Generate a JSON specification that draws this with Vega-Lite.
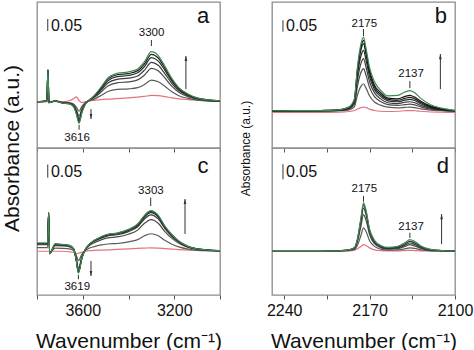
{
"$schema":"https://vega.github.io/schema/vega-lite/v6.json",
"padding":{"left":0,"top":1,"right":0,"bottom":0},
"background":"white",
"config":{
 "font":"Liberation Sans",
 "view":{"stroke":"#8c8c8c","strokeWidth":1.3},
 "axis":{"grid":false,"domain":false,"tickColor":"#555","tickSize":4,"labelFontSize":16,"labelColor":"#111","titleFontSize":21,"titleFontWeight":"normal","titleColor":"#111","labelFont":"Liberation Sans","titleFont":"Liberation Sans"},
 "text":{"font":"Liberation Sans"}
},
"datasets":{
"A":[
{"s":"0","x":3800,"y":0},{"s":"0","x":3757,"y":0},{"s":"0","x":3752,"y":0.002},{"s":"0","x":3748,"y":0},{"s":"0","x":3720,"y":0.003},{"s":"0","x":3690,"y":0},{"s":"0","x":3660,"y":0.004},{"s":"0","x":3640,"y":0.012},{"s":"0","x":3628,"y":0.02},{"s":"0","x":3616,"y":0.005},{"s":"0","x":3604,"y":-0.003},{"s":"0","x":3590,"y":0},{"s":"0","x":3575,"y":0.003},{"s":"0","x":3550,"y":0.006},{"s":"0","x":3520,"y":0.009},{"s":"0","x":3490,"y":0.011},{"s":"0","x":3450,"y":0.013},{"s":"0","x":3400,"y":0.016},{"s":"0","x":3360,"y":0.019},{"s":"0","x":3330,"y":0.022},{"s":"0","x":3300,"y":0.026},{"s":"0","x":3270,"y":0.025},{"s":"0","x":3240,"y":0.021},{"s":"0","x":3210,"y":0.016},{"s":"0","x":3180,"y":0.012},{"s":"0","x":3140,"y":0.009},{"s":"0","x":3100,"y":0.007},{"s":"0","x":3050,"y":0.005},{"s":"0","x":3000,"y":0.004},
{"s":"1","x":3800,"y":0},{"s":"1","x":3757,"y":0.002},{"s":"1","x":3752,"y":0.13},{"s":"1","x":3748,"y":-0.002},{"s":"1","x":3720,"y":0.002},{"s":"1","x":3690,"y":-0.002},{"s":"1","x":3660,"y":-0.003},{"s":"1","x":3640,"y":-0.009},{"s":"1","x":3628,"y":-0.022},{"s":"1","x":3616,"y":-0.039},{"s":"1","x":3604,"y":-0.019},{"s":"1","x":3590,"y":-0.005},{"s":"1","x":3575,"y":0.002},{"s":"1","x":3550,"y":0.011},{"s":"1","x":3520,"y":0.026},{"s":"1","x":3490,"y":0.042},{"s":"1","x":3450,"y":0.051},{"s":"1","x":3400,"y":0.053},{"s":"1","x":3360,"y":0.058},{"s":"1","x":3330,"y":0.071},{"s":"1","x":3300,"y":0.089},{"s":"1","x":3270,"y":0.082},{"s":"1","x":3240,"y":0.063},{"s":"1","x":3210,"y":0.041},{"s":"1","x":3180,"y":0.025},{"s":"1","x":3140,"y":0.014},{"s":"1","x":3100,"y":0.007},{"s":"1","x":3050,"y":0.003},{"s":"1","x":3000,"y":0.002},
{"s":"2","x":3800,"y":0},{"s":"2","x":3757,"y":0.003},{"s":"2","x":3752,"y":0.13},{"s":"2","x":3748,"y":-0.003},{"s":"2","x":3720,"y":0.003},{"s":"2","x":3690,"y":-0.003},{"s":"2","x":3660,"y":-0.005},{"s":"2","x":3640,"y":-0.013},{"s":"2","x":3628,"y":-0.033},{"s":"2","x":3616,"y":-0.059},{"s":"2","x":3604,"y":-0.03},{"s":"2","x":3590,"y":-0.008},{"s":"2","x":3575,"y":0.003},{"s":"2","x":3550,"y":0.017},{"s":"2","x":3520,"y":0.04},{"s":"2","x":3490,"y":0.065},{"s":"2","x":3450,"y":0.078},{"s":"2","x":3400,"y":0.082},{"s":"2","x":3360,"y":0.09},{"s":"2","x":3330,"y":0.11},{"s":"2","x":3300,"y":0.137},{"s":"2","x":3270,"y":0.127},{"s":"2","x":3240,"y":0.097},{"s":"2","x":3210,"y":0.063},{"s":"2","x":3180,"y":0.039},{"s":"2","x":3140,"y":0.021},{"s":"2","x":3100,"y":0.011},{"s":"2","x":3050,"y":0.005},{"s":"2","x":3000,"y":0.003},
{"s":"3","x":3800,"y":0},{"s":"3","x":3757,"y":0.003},{"s":"3","x":3752,"y":0.13},{"s":"3","x":3748,"y":-0.003},{"s":"3","x":3720,"y":0.003},{"s":"3","x":3690,"y":-0.004},{"s":"3","x":3660,"y":-0.006},{"s":"3","x":3640,"y":-0.016},{"s":"3","x":3628,"y":-0.039},{"s":"3","x":3616,"y":-0.07},{"s":"3","x":3604,"y":-0.035},{"s":"3","x":3590,"y":-0.009},{"s":"3","x":3575,"y":0.003},{"s":"3","x":3550,"y":0.02},{"s":"3","x":3520,"y":0.047},{"s":"3","x":3490,"y":0.077},{"s":"3","x":3450,"y":0.092},{"s":"3","x":3400,"y":0.097},{"s":"3","x":3360,"y":0.106},{"s":"3","x":3330,"y":0.13},{"s":"3","x":3300,"y":0.162},{"s":"3","x":3270,"y":0.15},{"s":"3","x":3240,"y":0.114},{"s":"3","x":3210,"y":0.075},{"s":"3","x":3180,"y":0.046},{"s":"3","x":3140,"y":0.025},{"s":"3","x":3100,"y":0.013},{"s":"3","x":3050,"y":0.006},{"s":"3","x":3000,"y":0.003},
{"s":"4","x":3800,"y":0},{"s":"4","x":3757,"y":0.004},{"s":"4","x":3752,"y":0.13},{"s":"4","x":3748,"y":-0.004},{"s":"4","x":3720,"y":0.004},{"s":"4","x":3690,"y":-0.004},{"s":"4","x":3660,"y":-0.007},{"s":"4","x":3640,"y":-0.018},{"s":"4","x":3628,"y":-0.044},{"s":"4","x":3616,"y":-0.078},{"s":"4","x":3604,"y":-0.04},{"s":"4","x":3590,"y":-0.011},{"s":"4","x":3575,"y":0.004},{"s":"4","x":3550,"y":0.022},{"s":"4","x":3520,"y":0.053},{"s":"4","x":3490,"y":0.086},{"s":"4","x":3450,"y":0.103},{"s":"4","x":3400,"y":0.108},{"s":"4","x":3360,"y":0.119},{"s":"4","x":3330,"y":0.145},{"s":"4","x":3300,"y":0.181},{"s":"4","x":3270,"y":0.167},{"s":"4","x":3240,"y":0.128},{"s":"4","x":3210,"y":0.084},{"s":"4","x":3180,"y":0.051},{"s":"4","x":3140,"y":0.028},{"s":"4","x":3100,"y":0.014},{"s":"4","x":3050,"y":0.007},{"s":"4","x":3000,"y":0.004},
{"s":"5","x":3800,"y":0},{"s":"5","x":3757,"y":0.004},{"s":"5","x":3752,"y":0.13},{"s":"5","x":3748,"y":-0.004},{"s":"5","x":3720,"y":0.004},{"s":"5","x":3690,"y":-0.005},{"s":"5","x":3660,"y":-0.008},{"s":"5","x":3640,"y":-0.019},{"s":"5","x":3628,"y":-0.047},{"s":"5","x":3616,"y":-0.084},{"s":"5","x":3604,"y":-0.043},{"s":"5","x":3590,"y":-0.011},{"s":"5","x":3575,"y":0.004},{"s":"5","x":3550,"y":0.024},{"s":"5","x":3520,"y":0.057},{"s":"5","x":3490,"y":0.093},{"s":"5","x":3450,"y":0.111},{"s":"5","x":3400,"y":0.116},{"s":"5","x":3360,"y":0.128},{"s":"5","x":3330,"y":0.156},{"s":"5","x":3300,"y":0.195},{"s":"5","x":3270,"y":0.18},{"s":"5","x":3240,"y":0.137},{"s":"5","x":3210,"y":0.09},{"s":"5","x":3180,"y":0.055},{"s":"5","x":3140,"y":0.03},{"s":"5","x":3100,"y":0.015},{"s":"5","x":3050,"y":0.008},{"s":"5","x":3000,"y":0.004},
{"s":"7","x":3800,"y":0},{"s":"7","x":3757,"y":0.004},{"s":"7","x":3752,"y":0.13},{"s":"7","x":3748,"y":-0.004},{"s":"7","x":3720,"y":0.004},{"s":"7","x":3690,"y":-0.005},{"s":"7","x":3660,"y":-0.008},{"s":"7","x":3640,"y":-0.02},{"s":"7","x":3628,"y":-0.05},{"s":"7","x":3616,"y":-0.089},{"s":"7","x":3604,"y":-0.045},{"s":"7","x":3590,"y":-0.012},{"s":"7","x":3575,"y":0.004},{"s":"7","x":3550,"y":0.025},{"s":"7","x":3520,"y":0.06},{"s":"7","x":3490,"y":0.098},{"s":"7","x":3450,"y":0.117},{"s":"7","x":3400,"y":0.123},{"s":"7","x":3360,"y":0.135},{"s":"7","x":3330,"y":0.165},{"s":"7","x":3300,"y":0.206},{"s":"7","x":3270,"y":0.19},{"s":"7","x":3240,"y":0.145},{"s":"7","x":3210,"y":0.095},{"s":"7","x":3180,"y":0.058},{"s":"7","x":3140,"y":0.032},{"s":"7","x":3100,"y":0.016},{"s":"7","x":3050,"y":0.008},{"s":"7","x":3000,"y":0.004}
],
"C":[
{"s":"0","x":3800,"y":0},{"s":"0","x":3754,"y":0},{"s":"0","x":3749,"y":0},{"s":"0","x":3745,"y":0},{"s":"0","x":3720,"y":0},{"s":"0","x":3690,"y":0},{"s":"0","x":3660,"y":-0.002},{"s":"0","x":3640,"y":-0.005},{"s":"0","x":3628,"y":-0.01},{"s":"0","x":3619,"y":-0.008},{"s":"0","x":3604,"y":-0.004},{"s":"0","x":3590,"y":0},{"s":"0","x":3575,"y":0.002},{"s":"0","x":3550,"y":0.004},{"s":"0","x":3520,"y":0.005},{"s":"0","x":3490,"y":0.006},{"s":"0","x":3450,"y":0.008},{"s":"0","x":3400,"y":0.01},{"s":"0","x":3360,"y":0.012},{"s":"0","x":3330,"y":0.013},{"s":"0","x":3303,"y":0.014},{"s":"0","x":3270,"y":0.013},{"s":"0","x":3240,"y":0.011},{"s":"0","x":3210,"y":0.009},{"s":"0","x":3180,"y":0.007},{"s":"0","x":3140,"y":0.005},{"s":"0","x":3100,"y":0.004},{"s":"0","x":3050,"y":0.003},{"s":"0","x":3000,"y":0.002},
{"s":"1","x":3800,"y":0.015},{"s":"1","x":3754,"y":0.015},{"s":"1","x":3749,"y":0.158},{"s":"1","x":3745,"y":-0.004},{"s":"1","x":3720,"y":0.013},{"s":"1","x":3690,"y":0.012},{"s":"1","x":3660,"y":0.01},{"s":"1","x":3640,"y":0.004},{"s":"1","x":3628,"y":-0.017},{"s":"1","x":3619,"y":-0.039},{"s":"1","x":3604,"y":-0.013},{"s":"1","x":3590,"y":0.002},{"s":"1","x":3575,"y":0.011},{"s":"1","x":3550,"y":0.019},{"s":"1","x":3520,"y":0.026},{"s":"1","x":3490,"y":0.03},{"s":"1","x":3450,"y":0.032},{"s":"1","x":3400,"y":0.039},{"s":"1","x":3360,"y":0.048},{"s":"1","x":3330,"y":0.064},{"s":"1","x":3303,"y":0.072},{"s":"1","x":3270,"y":0.064},{"s":"1","x":3240,"y":0.044},{"s":"1","x":3210,"y":0.029},{"s":"1","x":3180,"y":0.018},{"s":"1","x":3140,"y":0.009},{"s":"1","x":3100,"y":0.004},{"s":"1","x":3050,"y":0.002},{"s":"1","x":3000,"y":0.001},
{"s":"2","x":3800,"y":0.027},{"s":"2","x":3754,"y":0.027},{"s":"2","x":3749,"y":0.158},{"s":"2","x":3745,"y":-0.008},{"s":"2","x":3720,"y":0.023},{"s":"2","x":3690,"y":0.022},{"s":"2","x":3660,"y":0.019},{"s":"2","x":3640,"y":0.008},{"s":"2","x":3628,"y":-0.031},{"s":"2","x":3619,"y":-0.07},{"s":"2","x":3604,"y":-0.023},{"s":"2","x":3590,"y":0.004},{"s":"2","x":3575,"y":0.02},{"s":"2","x":3550,"y":0.035},{"s":"2","x":3520,"y":0.047},{"s":"2","x":3490,"y":0.055},{"s":"2","x":3450,"y":0.059},{"s":"2","x":3400,"y":0.07},{"s":"2","x":3360,"y":0.087},{"s":"2","x":3330,"y":0.115},{"s":"2","x":3303,"y":0.13},{"s":"2","x":3270,"y":0.115},{"s":"2","x":3240,"y":0.08},{"s":"2","x":3210,"y":0.053},{"s":"2","x":3180,"y":0.033},{"s":"2","x":3140,"y":0.016},{"s":"2","x":3100,"y":0.008},{"s":"2","x":3050,"y":0.004},{"s":"2","x":3000,"y":0.002},
{"s":"3","x":3800,"y":0.031},{"s":"3","x":3754,"y":0.031},{"s":"3","x":3749,"y":0.158},{"s":"3","x":3745,"y":-0.009},{"s":"3","x":3720,"y":0.027},{"s":"3","x":3690,"y":0.025},{"s":"3","x":3660,"y":0.022},{"s":"3","x":3640,"y":0.009},{"s":"3","x":3628,"y":-0.036},{"s":"3","x":3619,"y":-0.081},{"s":"3","x":3604,"y":-0.027},{"s":"3","x":3590,"y":0.005},{"s":"3","x":3575,"y":0.023},{"s":"3","x":3550,"y":0.041},{"s":"3","x":3520,"y":0.054},{"s":"3","x":3490,"y":0.063},{"s":"3","x":3450,"y":0.068},{"s":"3","x":3400,"y":0.081},{"s":"3","x":3360,"y":0.101},{"s":"3","x":3330,"y":0.133},{"s":"3","x":3303,"y":0.15},{"s":"3","x":3270,"y":0.133},{"s":"3","x":3240,"y":0.092},{"s":"3","x":3210,"y":0.061},{"s":"3","x":3180,"y":0.038},{"s":"3","x":3140,"y":0.018},{"s":"3","x":3100,"y":0.009},{"s":"3","x":3050,"y":0.005},{"s":"3","x":3000,"y":0.003},
{"s":"4","x":3800,"y":0.032},{"s":"4","x":3754,"y":0.032},{"s":"4","x":3749,"y":0.158},{"s":"4","x":3745,"y":-0.01},{"s":"4","x":3720,"y":0.029},{"s":"4","x":3690,"y":0.027},{"s":"4","x":3660,"y":0.023},{"s":"4","x":3640,"y":0.01},{"s":"4","x":3628,"y":-0.038},{"s":"4","x":3619,"y":-0.086},{"s":"4","x":3604,"y":-0.029},{"s":"4","x":3590,"y":0.005},{"s":"4","x":3575,"y":0.024},{"s":"4","x":3550,"y":0.043},{"s":"4","x":3520,"y":0.057},{"s":"4","x":3490,"y":0.067},{"s":"4","x":3450,"y":0.071},{"s":"4","x":3400,"y":0.086},{"s":"4","x":3360,"y":0.106},{"s":"4","x":3330,"y":0.141},{"s":"4","x":3303,"y":0.159},{"s":"4","x":3270,"y":0.141},{"s":"4","x":3240,"y":0.097},{"s":"4","x":3210,"y":0.065},{"s":"4","x":3180,"y":0.04},{"s":"4","x":3140,"y":0.019},{"s":"4","x":3100,"y":0.01},{"s":"4","x":3050,"y":0.005},{"s":"4","x":3000,"y":0.003},
{"s":"5","x":3800,"y":0.033},{"s":"5","x":3754,"y":0.033},{"s":"5","x":3749,"y":0.158},{"s":"5","x":3745,"y":-0.01},{"s":"5","x":3720,"y":0.029},{"s":"5","x":3690,"y":0.027},{"s":"5","x":3660,"y":0.024},{"s":"5","x":3640,"y":0.01},{"s":"5","x":3628,"y":-0.039},{"s":"5","x":3619,"y":-0.088},{"s":"5","x":3604,"y":-0.029},{"s":"5","x":3590,"y":0.005},{"s":"5","x":3575,"y":0.025},{"s":"5","x":3550,"y":0.044},{"s":"5","x":3520,"y":0.059},{"s":"5","x":3490,"y":0.069},{"s":"5","x":3450,"y":0.074},{"s":"5","x":3400,"y":0.088},{"s":"5","x":3360,"y":0.11},{"s":"5","x":3330,"y":0.145},{"s":"5","x":3303,"y":0.164},{"s":"5","x":3270,"y":0.145},{"s":"5","x":3240,"y":0.1},{"s":"5","x":3210,"y":0.067},{"s":"5","x":3180,"y":0.041},{"s":"5","x":3140,"y":0.02},{"s":"5","x":3100,"y":0.01},{"s":"5","x":3050,"y":0.005},{"s":"5","x":3000,"y":0.003},
{"s":"7","x":3800,"y":0.034},{"s":"7","x":3754,"y":0.034},{"s":"7","x":3749,"y":0.158},{"s":"7","x":3745,"y":-0.01},{"s":"7","x":3720,"y":0.03},{"s":"7","x":3690,"y":0.028},{"s":"7","x":3660,"y":0.024},{"s":"7","x":3640,"y":0.01},{"s":"7","x":3628,"y":-0.04},{"s":"7","x":3619,"y":-0.09},{"s":"7","x":3604,"y":-0.03},{"s":"7","x":3590,"y":0.005},{"s":"7","x":3575,"y":0.025},{"s":"7","x":3550,"y":0.045},{"s":"7","x":3520,"y":0.06},{"s":"7","x":3490,"y":0.07},{"s":"7","x":3450,"y":0.075},{"s":"7","x":3400,"y":0.09},{"s":"7","x":3360,"y":0.112},{"s":"7","x":3330,"y":0.148},{"s":"7","x":3303,"y":0.167},{"s":"7","x":3270,"y":0.148},{"s":"7","x":3240,"y":0.102},{"s":"7","x":3210,"y":0.068},{"s":"7","x":3180,"y":0.042},{"s":"7","x":3140,"y":0.02},{"s":"7","x":3100,"y":0.01},{"s":"7","x":3050,"y":0.005},{"s":"7","x":3000,"y":0.003}
],
"B":[
{"s":"0","x":2250,"y":-0.004},{"s":"0","x":2230,"y":-0.004},{"s":"0","x":2210,"y":-0.004},{"s":"0","x":2195,"y":-0.003},{"s":"0","x":2187,"y":0},{"s":"0","x":2182.5,"y":0.004},{"s":"0","x":2180,"y":0.01},{"s":"0","x":2177,"y":0.016},{"s":"0","x":2175,"y":0.018},{"s":"0","x":2173,"y":0.016},{"s":"0","x":2170,"y":0.01},{"s":"0","x":2166,"y":0.004},{"s":"0","x":2161,"y":0.001},{"s":"0","x":2155,"y":0},{"s":"0","x":2147,"y":0.001},{"s":"0","x":2141,"y":0.003},{"s":"0","x":2137,"y":0.004},{"s":"0","x":2133,"y":0.003},{"s":"0","x":2128,"y":0.001},{"s":"0","x":2120,"y":-0.002},{"s":"0","x":2111,"y":-0.003},{"s":"0","x":2100,"y":-0.004},
{"s":"1","x":2250,"y":0.001},{"s":"1","x":2230,"y":0.001},{"s":"1","x":2210,"y":0.002},{"s":"1","x":2195,"y":0.003},{"s":"1","x":2187,"y":0.007},{"s":"1","x":2182.5,"y":0.019},{"s":"1","x":2180,"y":0.067},{"s":"1","x":2177,"y":0.104},{"s":"1","x":2175,"y":0.114},{"s":"1","x":2173,"y":0.097},{"s":"1","x":2170,"y":0.064},{"s":"1","x":2166,"y":0.039},{"s":"1","x":2161,"y":0.026},{"s":"1","x":2155,"y":0.018},{"s":"1","x":2147,"y":0.015},{"s":"1","x":2141,"y":0.017},{"s":"1","x":2137,"y":0.018},{"s":"1","x":2133,"y":0.016},{"s":"1","x":2128,"y":0.011},{"s":"1","x":2120,"y":0.006},{"s":"1","x":2111,"y":0.003},{"s":"1","x":2100,"y":0.001},
{"s":"2","x":2250,"y":0.002},{"s":"2","x":2230,"y":0.002},{"s":"2","x":2210,"y":0.002},{"s":"2","x":2195,"y":0.004},{"s":"2","x":2187,"y":0.01},{"s":"2","x":2182.5,"y":0.029},{"s":"2","x":2180,"y":0.103},{"s":"2","x":2177,"y":0.161},{"s":"2","x":2175,"y":0.176},{"s":"2","x":2173,"y":0.15},{"s":"2","x":2170,"y":0.098},{"s":"2","x":2166,"y":0.061},{"s":"2","x":2161,"y":0.041},{"s":"2","x":2155,"y":0.028},{"s":"2","x":2147,"y":0.025},{"s":"2","x":2141,"y":0.028},{"s":"2","x":2137,"y":0.03},{"s":"2","x":2133,"y":0.027},{"s":"2","x":2128,"y":0.019},{"s":"2","x":2120,"y":0.01},{"s":"2","x":2111,"y":0.005},{"s":"2","x":2100,"y":0.002},
{"s":"3","x":2250,"y":0.002},{"s":"3","x":2230,"y":0.002},{"s":"3","x":2210,"y":0.003},{"s":"3","x":2195,"y":0.005},{"s":"3","x":2187,"y":0.013},{"s":"3","x":2182.5,"y":0.035},{"s":"3","x":2180,"y":0.128},{"s":"3","x":2177,"y":0.199},{"s":"3","x":2175,"y":0.217},{"s":"3","x":2173,"y":0.184},{"s":"3","x":2170,"y":0.122},{"s":"3","x":2166,"y":0.077},{"s":"3","x":2161,"y":0.052},{"s":"3","x":2155,"y":0.036},{"s":"3","x":2147,"y":0.032},{"s":"3","x":2141,"y":0.038},{"s":"3","x":2137,"y":0.04},{"s":"3","x":2133,"y":0.036},{"s":"3","x":2128,"y":0.025},{"s":"3","x":2120,"y":0.013},{"s":"3","x":2111,"y":0.006},{"s":"3","x":2100,"y":0.002},
{"s":"4","x":2250,"y":0.002},{"s":"4","x":2230,"y":0.003},{"s":"4","x":2210,"y":0.003},{"s":"4","x":2195,"y":0.006},{"s":"4","x":2187,"y":0.015},{"s":"4","x":2182.5,"y":0.041},{"s":"4","x":2180,"y":0.148},{"s":"4","x":2177,"y":0.23},{"s":"4","x":2175,"y":0.251},{"s":"4","x":2173,"y":0.213},{"s":"4","x":2170,"y":0.142},{"s":"4","x":2166,"y":0.09},{"s":"4","x":2161,"y":0.062},{"s":"4","x":2155,"y":0.044},{"s":"4","x":2147,"y":0.04},{"s":"4","x":2141,"y":0.047},{"s":"4","x":2137,"y":0.05},{"s":"4","x":2133,"y":0.045},{"s":"4","x":2128,"y":0.032},{"s":"4","x":2120,"y":0.016},{"s":"4","x":2111,"y":0.008},{"s":"4","x":2100,"y":0.003},
{"s":"5","x":2250,"y":0.003},{"s":"5","x":2230,"y":0.003},{"s":"5","x":2210,"y":0.004},{"s":"5","x":2195,"y":0.006},{"s":"5","x":2187,"y":0.016},{"s":"5","x":2182.5,"y":0.046},{"s":"5","x":2180,"y":0.164},{"s":"5","x":2177,"y":0.255},{"s":"5","x":2175,"y":0.279},{"s":"5","x":2173,"y":0.237},{"s":"5","x":2170,"y":0.158},{"s":"5","x":2166,"y":0.1},{"s":"5","x":2161,"y":0.07},{"s":"5","x":2155,"y":0.05},{"s":"5","x":2147,"y":0.046},{"s":"5","x":2141,"y":0.054},{"s":"5","x":2137,"y":0.058},{"s":"5","x":2133,"y":0.052},{"s":"5","x":2128,"y":0.037},{"s":"5","x":2120,"y":0.019},{"s":"5","x":2111,"y":0.009},{"s":"5","x":2100,"y":0.003},
{"s":"6","x":2250,"y":0.003},{"s":"6","x":2230,"y":0.004},{"s":"6","x":2210,"y":0.004},{"s":"6","x":2195,"y":0.007},{"s":"6","x":2187,"y":0.017},{"s":"6","x":2182.5,"y":0.048},{"s":"6","x":2180,"y":0.172},{"s":"6","x":2177,"y":0.267},{"s":"6","x":2175,"y":0.292},{"s":"6","x":2173,"y":0.248},{"s":"6","x":2170,"y":0.168},{"s":"6","x":2166,"y":0.108},{"s":"6","x":2161,"y":0.078},{"s":"6","x":2155,"y":0.055},{"s":"6","x":2147,"y":0.052},{"s":"6","x":2141,"y":0.062},{"s":"6","x":2137,"y":0.066},{"s":"6","x":2133,"y":0.059},{"s":"6","x":2128,"y":0.042},{"s":"6","x":2120,"y":0.022},{"s":"6","x":2111,"y":0.011},{"s":"6","x":2100,"y":0.004},
{"s":"7","x":2250,"y":0.003},{"s":"7","x":2230,"y":0.004},{"s":"7","x":2210,"y":0.004},{"s":"7","x":2195,"y":0.007},{"s":"7","x":2187,"y":0.018},{"s":"7","x":2182.5,"y":0.05},{"s":"7","x":2180,"y":0.18},{"s":"7","x":2177,"y":0.28},{"s":"7","x":2175,"y":0.306},{"s":"7","x":2173,"y":0.26},{"s":"7","x":2170,"y":0.18},{"s":"7","x":2166,"y":0.122},{"s":"7","x":2161,"y":0.088},{"s":"7","x":2155,"y":0.064},{"s":"7","x":2147,"y":0.066},{"s":"7","x":2141,"y":0.08},{"s":"7","x":2137,"y":0.086},{"s":"7","x":2133,"y":0.077},{"s":"7","x":2128,"y":0.054},{"s":"7","x":2120,"y":0.028},{"s":"7","x":2111,"y":0.014},{"s":"7","x":2100,"y":0.005}
],
"D":[
{"s":"0","x":2250,"y":0},{"s":"0","x":2230,"y":0},{"s":"0","x":2210,"y":0},{"s":"0","x":2195,"y":0},{"s":"0","x":2187,"y":0.001},{"s":"0","x":2182.5,"y":0.004},{"s":"0","x":2180,"y":0.01},{"s":"0","x":2177,"y":0.02},{"s":"0","x":2175,"y":0.027},{"s":"0","x":2173,"y":0.024},{"s":"0","x":2170,"y":0.014},{"s":"0","x":2166,"y":0.006},{"s":"0","x":2161,"y":0.003},{"s":"0","x":2155,"y":0.002},{"s":"0","x":2147,"y":0.002},{"s":"0","x":2141,"y":0.003},{"s":"0","x":2137,"y":0.004},{"s":"0","x":2133,"y":0.003},{"s":"0","x":2128,"y":0.002},{"s":"0","x":2120,"y":0.001},{"s":"0","x":2111,"y":0},{"s":"0","x":2100,"y":0},
{"s":"1","x":2250,"y":0},{"s":"1","x":2230,"y":0},{"s":"1","x":2210,"y":0},{"s":"1","x":2195,"y":0.001},{"s":"1","x":2187,"y":0.003},{"s":"1","x":2182.5,"y":0.007},{"s":"1","x":2180,"y":0.024},{"s":"1","x":2177,"y":0.067},{"s":"1","x":2175,"y":0.096},{"s":"1","x":2173,"y":0.082},{"s":"1","x":2170,"y":0.043},{"s":"1","x":2166,"y":0.02},{"s":"1","x":2161,"y":0.009},{"s":"1","x":2155,"y":0.005},{"s":"1","x":2147,"y":0.006},{"s":"1","x":2141,"y":0.01},{"s":"1","x":2137,"y":0.014},{"s":"1","x":2133,"y":0.012},{"s":"1","x":2128,"y":0.006},{"s":"1","x":2120,"y":0.002},{"s":"1","x":2111,"y":0.001},{"s":"1","x":2100,"y":0},
{"s":"2","x":2250,"y":0},{"s":"2","x":2230,"y":0},{"s":"2","x":2210,"y":0},{"s":"2","x":2195,"y":0.002},{"s":"2","x":2187,"y":0.005},{"s":"2","x":2182.5,"y":0.011},{"s":"2","x":2180,"y":0.038},{"s":"2","x":2177,"y":0.106},{"s":"2","x":2175,"y":0.151},{"s":"2","x":2173,"y":0.129},{"s":"2","x":2170,"y":0.068},{"s":"2","x":2166,"y":0.031},{"s":"2","x":2161,"y":0.015},{"s":"2","x":2155,"y":0.009},{"s":"2","x":2147,"y":0.011},{"s":"2","x":2141,"y":0.02},{"s":"2","x":2137,"y":0.027},{"s":"2","x":2133,"y":0.022},{"s":"2","x":2128,"y":0.012},{"s":"2","x":2120,"y":0.004},{"s":"2","x":2111,"y":0.002},{"s":"2","x":2100,"y":0.001},
{"s":"3","x":2250,"y":0},{"s":"3","x":2230,"y":0},{"s":"3","x":2210,"y":0},{"s":"3","x":2195,"y":0.002},{"s":"3","x":2187,"y":0.005},{"s":"3","x":2182.5,"y":0.013},{"s":"3","x":2180,"y":0.045},{"s":"3","x":2177,"y":0.125},{"s":"3","x":2175,"y":0.178},{"s":"3","x":2173,"y":0.152},{"s":"3","x":2170,"y":0.08},{"s":"3","x":2166,"y":0.037},{"s":"3","x":2161,"y":0.018},{"s":"3","x":2155,"y":0.011},{"s":"3","x":2147,"y":0.014},{"s":"3","x":2141,"y":0.025},{"s":"3","x":2137,"y":0.034},{"s":"3","x":2133,"y":0.028},{"s":"3","x":2128,"y":0.015},{"s":"3","x":2120,"y":0.006},{"s":"3","x":2111,"y":0.002},{"s":"3","x":2100,"y":0.001},
{"s":"4","x":2250,"y":0},{"s":"4","x":2230,"y":0},{"s":"4","x":2210,"y":0},{"s":"4","x":2195,"y":0.002},{"s":"4","x":2187,"y":0.006},{"s":"4","x":2182.5,"y":0.014},{"s":"4","x":2180,"y":0.048},{"s":"4","x":2177,"y":0.135},{"s":"4","x":2175,"y":0.192},{"s":"4","x":2173,"y":0.164},{"s":"4","x":2170,"y":0.087},{"s":"4","x":2166,"y":0.042},{"s":"4","x":2161,"y":0.022},{"s":"4","x":2155,"y":0.014},{"s":"4","x":2147,"y":0.017},{"s":"4","x":2141,"y":0.03},{"s":"4","x":2137,"y":0.041},{"s":"4","x":2133,"y":0.034},{"s":"4","x":2128,"y":0.019},{"s":"4","x":2120,"y":0.007},{"s":"4","x":2111,"y":0.003},{"s":"4","x":2100,"y":0.001},
{"s":"7","x":2250,"y":0},{"s":"7","x":2230,"y":0},{"s":"7","x":2210,"y":0},{"s":"7","x":2195,"y":0.002},{"s":"7","x":2187,"y":0.006},{"s":"7","x":2182.5,"y":0.015},{"s":"7","x":2180,"y":0.05},{"s":"7","x":2177,"y":0.14},{"s":"7","x":2175,"y":0.199},{"s":"7","x":2173,"y":0.17},{"s":"7","x":2170,"y":0.09},{"s":"7","x":2166,"y":0.045},{"s":"7","x":2161,"y":0.024},{"s":"7","x":2155,"y":0.016},{"s":"7","x":2147,"y":0.02},{"s":"7","x":2141,"y":0.035},{"s":"7","x":2137,"y":0.048},{"s":"7","x":2133,"y":0.04},{"s":"7","x":2128,"y":0.022},{"s":"7","x":2120,"y":0.008},{"s":"7","x":2111,"y":0.003},{"s":"7","x":2100,"y":0.001}
],
"ann":[
{"p":"a","g":"r","x":3753,"y":0.291,"y2":0.34},
{"p":"a","g":"r","x":3300,"y":0.229,"y2":0.254},
{"p":"a","g":"r","x":3616,"y":-0.115,"y2":-0.095},
{"p":"a","g":"r","x":3564,"y":-0.071,"y2":-0.03},
{"p":"a","g":"r","x":3149,"y":0.052,"y2":0.188},
{"p":"c","g":"r","x":3753,"y":0.303,"y2":0.357},
{"p":"c","g":"r","x":3303,"y":0.186,"y2":0.221},
{"p":"c","g":"r","x":3619,"y":-0.115,"y2":-0.097},
{"p":"c","g":"r","x":3564,"y":-0.102,"y2":-0.04},
{"p":"c","g":"r","x":3153,"y":0.071,"y2":0.215},
{"p":"b","g":"r","x":2241,"y":0.328,"y2":0.375},
{"p":"b","g":"r","x":2175,"y":0.31,"y2":0.339},
{"p":"b","g":"r","x":2137,"y":0.096,"y2":0.125},
{"p":"b","g":"r","x":2112,"y":0.092,"y2":0.236},
{"p":"d","g":"r","x":2241,"y":0.296,"y2":0.358},
{"p":"d","g":"r","x":2175,"y":0.204,"y2":0.227},
{"p":"d","g":"r","x":2137,"y":0.055,"y2":0.076},
{"p":"d","g":"r","x":2111,"y":0.029,"y2":0.153},
{"p":"a","g":"h","x":3564,"y":-0.071,"d":"dn"},
{"p":"a","g":"h","x":3149,"y":0.188,"d":"up"},
{"p":"c","g":"h","x":3564,"y":-0.102,"d":"dn"},
{"p":"c","g":"h","x":3153,"y":0.215,"d":"up"},
{"p":"b","g":"h","x":2112,"y":0.236,"d":"up"},
{"p":"d","g":"h","x":2111,"y":0.153,"d":"up"},
{"p":"a","g":"l","x":3299,"y":0.282,"t":"3300"},
{"p":"a","g":"l","x":3625,"y":-0.15,"t":"3616"},
{"p":"c","g":"l","x":3302,"y":0.248,"t":"3303"},
{"p":"c","g":"l","x":3624,"y":-0.147,"t":"3619"},
{"p":"b","g":"l","x":2174.3,"y":0.36,"t":"2175"},
{"p":"b","g":"l","x":2136,"y":0.154,"t":"2137"},
{"p":"d","g":"l","x":2174.3,"y":0.256,"t":"2175"},
{"p":"d","g":"l","x":2136,"y":0.1,"t":"2137"},
{"p":"a","g":"s","x":3739,"y":0.311,"t":"0.05"},
{"p":"c","g":"s","x":3739,"y":0.327,"t":"0.05"},
{"p":"b","g":"s","x":2238.5,"y":0.351,"t":"0.05"},
{"p":"d","g":"s","x":2238.5,"y":0.327,"t":"0.05"},
{"p":"a","g":"L","x":3074,"y":0.324,"t":"a"},
{"p":"c","g":"L","x":3074,"y":0.322,"t":"c"},
{"p":"b","g":"L","x":2111.5,"y":0.364,"t":"b"},
{"p":"d","g":"L","x":2110,"y":0.322,"t":"d"}
]
},
"columns":2,
"spacing":{"row":0,"column":52},
"bounds":"flush",
"concat":[
{"width":183,"height":146,
 "encoding":{
  "x":{"field":"x","type":"quantitative","scale":{"domain":[3000,3800],"reverse":true,"nice":false,"zero":false},"axis":{"values":[3800,3600,3400,3200,3000],"labels":false,"title":null}},
  "y":{"field":"y","type":"quantitative","scale":{"domain":[-0.19,0.41],"nice":false,"zero":false},"axis":{"title":"Absorbance (a.u.)","labels":false,"ticks":false,"titleY":146,"titlePadding":15}}
 },
 "layer":[
  {"data":{"name":"A"},"mark":{"type":"line","interpolate":"monotone","strokeWidth":1.2},"encoding":{"color":{"field":"s","type":"nominal","legend":null,"scale":{"domain":["0","1","2","3","4","5","6","7"],"range":["#e5727f","#5a5a5a","#4a4a4a","#3a3a3a","#2c2c2c","#1f1f1f","#141414","#3f8a52"]}}}},
  {"data":{"name":"ann"},"transform":[{"filter":"datum.p=='a'&&datum.g=='r'"}],"mark":{"type":"rule","color":"#333","strokeWidth":1},"encoding":{"y2":{"field":"y2"}}},
  {"data":{"name":"ann"},"transform":[{"filter":"datum.p=='a'&&datum.g=='h'"}],"mark":{"type":"point","filled":true,"color":"#333","size":36,"opacity":1},"encoding":{"shape":{"field":"d","type":"nominal","legend":null,"scale":{"domain":["up","dn"],"range":["M0,0L0.45,1.7L-0.45,1.7Z","M0,0L0.45,-1.7L-0.45,-1.7Z"]}}}},
  {"data":{"name":"ann"},"transform":[{"filter":"datum.p=='a'&&datum.g=='l'"}],"mark":{"type":"text","fontSize":11.5,"align":"center","baseline":"middle","color":"#111"},"encoding":{"text":{"field":"t"}}},
  {"data":{"name":"ann"},"transform":[{"filter":"datum.p=='a'&&datum.g=='s'"}],"mark":{"type":"text","fontSize":16,"align":"left","baseline":"middle","color":"#111"},"encoding":{"text":{"field":"t"}}},
  {"data":{"name":"ann"},"transform":[{"filter":"datum.p=='a'&&datum.g=='L'"}],"mark":{"type":"text","fontSize":22,"align":"center","baseline":"alphabetic","color":"#111"},"encoding":{"text":{"field":"t"}}}
 ]},
{"width":183,"height":146,
 "encoding":{
  "x":{"field":"x","type":"quantitative","scale":{"domain":[2100,2250],"reverse":true,"nice":false,"zero":false},"axis":{"values":[2240,2205,2170,2135,2100],"labels":false,"title":null}},
  "y":{"field":"y","type":"quantitative","scale":{"domain":[-0.15,0.45],"nice":false,"zero":false},"axis":{"title":"Absorbance (a.u.)","labels":false,"ticks":false,"titleY":146,"titlePadding":20,"titleFontSize":12}}
 },
 "layer":[
  {"data":{"name":"B"},"mark":{"type":"line","interpolate":"monotone","strokeWidth":1.2},"encoding":{"color":{"field":"s","type":"nominal","legend":null,"scale":{"domain":["0","1","2","3","4","5","6","7"],"range":["#e5727f","#5a5a5a","#4a4a4a","#3a3a3a","#2c2c2c","#1f1f1f","#141414","#3f8a52"]}}}},
  {"data":{"name":"ann"},"transform":[{"filter":"datum.p=='b'&&datum.g=='r'"}],"mark":{"type":"rule","color":"#333","strokeWidth":1},"encoding":{"y2":{"field":"y2"}}},
  {"data":{"name":"ann"},"transform":[{"filter":"datum.p=='b'&&datum.g=='h'"}],"mark":{"type":"point","filled":true,"color":"#333","size":36,"opacity":1},"encoding":{"shape":{"field":"d","type":"nominal","legend":null,"scale":{"domain":["up","dn"],"range":["M0,0L0.45,1.7L-0.45,1.7Z","M0,0L0.45,-1.7L-0.45,-1.7Z"]}}}},
  {"data":{"name":"ann"},"transform":[{"filter":"datum.p=='b'&&datum.g=='l'"}],"mark":{"type":"text","fontSize":11.5,"align":"center","baseline":"middle","color":"#111"},"encoding":{"text":{"field":"t"}}},
  {"data":{"name":"ann"},"transform":[{"filter":"datum.p=='b'&&datum.g=='s'"}],"mark":{"type":"text","fontSize":16,"align":"left","baseline":"middle","color":"#111"},"encoding":{"text":{"field":"t"}}},
  {"data":{"name":"ann"},"transform":[{"filter":"datum.p=='b'&&datum.g=='L'"}],"mark":{"type":"text","fontSize":22,"align":"center","baseline":"alphabetic","color":"#111"},"encoding":{"text":{"field":"t"}}}
 ]},
{"width":183,"height":147,
 "encoding":{
  "x":{"field":"x","type":"quantitative","scale":{"domain":[3000,3800],"reverse":true,"nice":false,"zero":false},"axis":{"values":[3800,3600,3400,3200,3000],"format":"d","labelExpr":"datum.value==3600||datum.value==3200?datum.label:''","labelFlush":false,"labelOverlap":false,"labelPadding":3,"title":"Wavenumber (cm⁻¹)","titlePadding":12}},
  "y":{"field":"y","type":"quantitative","scale":{"domain":[-0.18,0.425],"nice":false,"zero":false},"axis":null}
 },
 "layer":[
  {"data":{"name":"C"},"mark":{"type":"line","interpolate":"monotone","strokeWidth":1.2},"encoding":{"color":{"field":"s","type":"nominal","legend":null,"scale":{"domain":["0","1","2","3","4","5","6","7"],"range":["#e5727f","#5a5a5a","#4a4a4a","#3a3a3a","#2c2c2c","#1f1f1f","#141414","#3f8a52"]}}}},
  {"data":{"name":"ann"},"transform":[{"filter":"datum.p=='c'&&datum.g=='r'"}],"mark":{"type":"rule","color":"#333","strokeWidth":1},"encoding":{"y2":{"field":"y2"}}},
  {"data":{"name":"ann"},"transform":[{"filter":"datum.p=='c'&&datum.g=='h'"}],"mark":{"type":"point","filled":true,"color":"#333","size":36,"opacity":1},"encoding":{"shape":{"field":"d","type":"nominal","legend":null,"scale":{"domain":["up","dn"],"range":["M0,0L0.45,1.7L-0.45,1.7Z","M0,0L0.45,-1.7L-0.45,-1.7Z"]}}}},
  {"data":{"name":"ann"},"transform":[{"filter":"datum.p=='c'&&datum.g=='l'"}],"mark":{"type":"text","fontSize":11.5,"align":"center","baseline":"middle","color":"#111"},"encoding":{"text":{"field":"t"}}},
  {"data":{"name":"ann"},"transform":[{"filter":"datum.p=='c'&&datum.g=='s'"}],"mark":{"type":"text","fontSize":16,"align":"left","baseline":"middle","color":"#111"},"encoding":{"text":{"field":"t"}}},
  {"data":{"name":"ann"},"transform":[{"filter":"datum.p=='c'&&datum.g=='L'"}],"mark":{"type":"text","fontSize":22,"align":"center","baseline":"alphabetic","color":"#111"},"encoding":{"text":{"field":"t"}}}
 ]},
{"width":183,"height":147,
 "encoding":{
  "x":{"field":"x","type":"quantitative","scale":{"domain":[2100,2250],"reverse":true,"nice":false,"zero":false},"axis":{"values":[2240,2205,2170,2135,2100],"format":"d","labelExpr":"datum.value==2240||datum.value==2170||datum.value==2100?datum.label:''","labelFlush":false,"labelOverlap":false,"labelPadding":3,"title":"Wavenumber (cm⁻¹)","titlePadding":12}},
  "y":{"field":"y","type":"quantitative","scale":{"domain":[-0.18,0.425],"nice":false,"zero":false},"axis":null}
 },
 "layer":[
  {"data":{"name":"D"},"mark":{"type":"line","interpolate":"monotone","strokeWidth":1.2},"encoding":{"color":{"field":"s","type":"nominal","legend":null,"scale":{"domain":["0","1","2","3","4","5","6","7"],"range":["#e5727f","#5a5a5a","#4a4a4a","#3a3a3a","#2c2c2c","#1f1f1f","#141414","#3f8a52"]}}}},
  {"data":{"name":"ann"},"transform":[{"filter":"datum.p=='d'&&datum.g=='r'"}],"mark":{"type":"rule","color":"#333","strokeWidth":1},"encoding":{"y2":{"field":"y2"}}},
  {"data":{"name":"ann"},"transform":[{"filter":"datum.p=='d'&&datum.g=='h'"}],"mark":{"type":"point","filled":true,"color":"#333","size":36,"opacity":1},"encoding":{"shape":{"field":"d","type":"nominal","legend":null,"scale":{"domain":["up","dn"],"range":["M0,0L0.45,1.7L-0.45,1.7Z","M0,0L0.45,-1.7L-0.45,-1.7Z"]}}}},
  {"data":{"name":"ann"},"transform":[{"filter":"datum.p=='d'&&datum.g=='l'"}],"mark":{"type":"text","fontSize":11.5,"align":"center","baseline":"middle","color":"#111"},"encoding":{"text":{"field":"t"}}},
  {"data":{"name":"ann"},"transform":[{"filter":"datum.p=='d'&&datum.g=='s'"}],"mark":{"type":"text","fontSize":16,"align":"left","baseline":"middle","color":"#111"},"encoding":{"text":{"field":"t"}}},
  {"data":{"name":"ann"},"transform":[{"filter":"datum.p=='d'&&datum.g=='L'"}],"mark":{"type":"text","fontSize":22,"align":"center","baseline":"alphabetic","color":"#111"},"encoding":{"text":{"field":"t"}}}
 ]}
]
}
